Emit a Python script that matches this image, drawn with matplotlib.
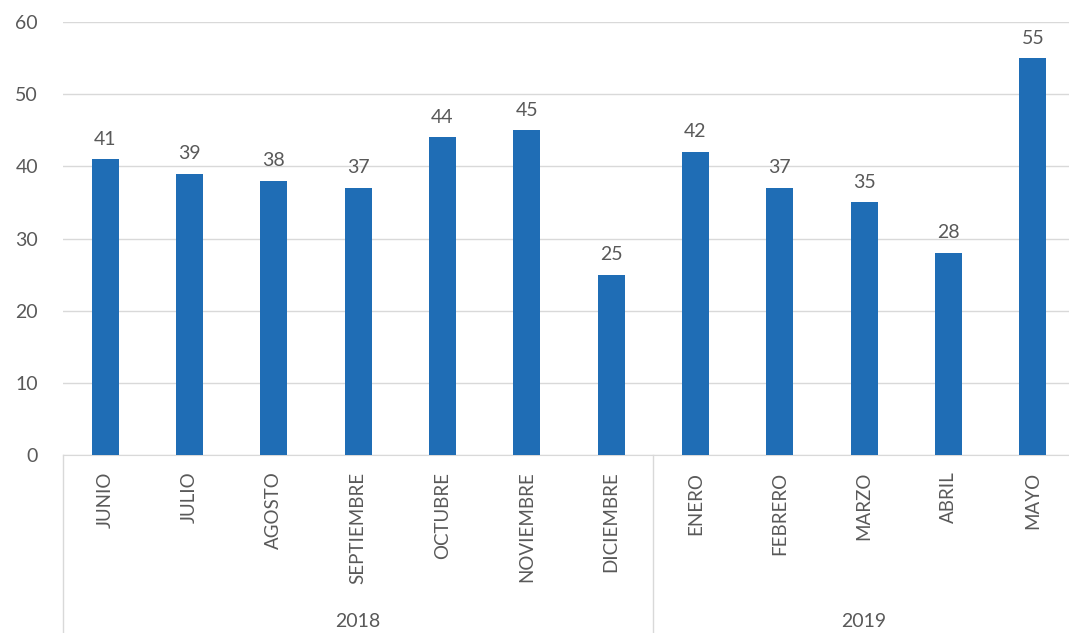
import matplotlib.pyplot as plt

# Data
months = ['JUNIO', 'JULIO', 'AGOSTO', 'SEPTIEMBRE', 'OCTUBRE', 'NOVIEMBRE', 'DICIEMBRE',
          'ENERO', 'FEBRERO', 'MARZO', 'ABRIL', 'MAYO']
values = [41, 39, 38, 37, 44, 45, 25, 42, 37, 35, 28, 55]
years = ['2018', '2019']
months_per_year = [7, 5]

plt.rcParams['font.family'] = ['Lato', 'DejaVu Sans']
text_color = '#595959'
grid_color = '#d9d9d9'
bar_color = '#1f6db5'

fig = plt.figure(figsize=(10.69, 6.33), dpi=100)
ax = fig.add_axes([63 / 1069, 178 / 633, 1012 / 1069, 433 / 633])

x = list(range(len(months)))
bars = ax.bar(x, values, width=0.32, color=bar_color, zorder=3)

# Value labels
for xi, v in zip(x, values):
    ax.text(xi, v + 1.6, str(v), ha='center', va='bottom', fontsize=14, color=text_color)

ax.set_xlim(-0.5, len(months) - 0.5)
ax.set_ylim(0, 60)
ax.set_yticks(range(0, 61, 10))
ax.yaxis.grid(True, color=grid_color, linewidth=1, zorder=0)
ax.tick_params(axis='y', length=0, labelsize=14, labelcolor=text_color, pad=18)
ax.tick_params(axis='x', length=0)
ax.set_xticks(x)
ax.set_xticklabels(months, rotation=90, fontsize=13.5, color=text_color)
ax.tick_params(axis='x', pad=12)

for side in ['top', 'right', 'left']:
    ax.spines[side].set_visible(False)
ax.spines['bottom'].set_color(grid_color)

# Group separators and year labels below the axis
start = -0.5
trans = ax.get_xaxis_transform()
ax.plot([start, start], [0, -0.42], transform=trans, color=grid_color, lw=1, clip_on=False)
for year, n in zip(years, months_per_year):
    end = start + n
    ax.plot([end, end], [0, -0.42], transform=trans, color=grid_color, lw=1, clip_on=False)
    ax.text((start + end) / 2, -0.385, year, transform=trans, ha='center', va='center',
            fontsize=14, color=text_color)
    start = end

fig.savefig('out.png', dpi=100)
